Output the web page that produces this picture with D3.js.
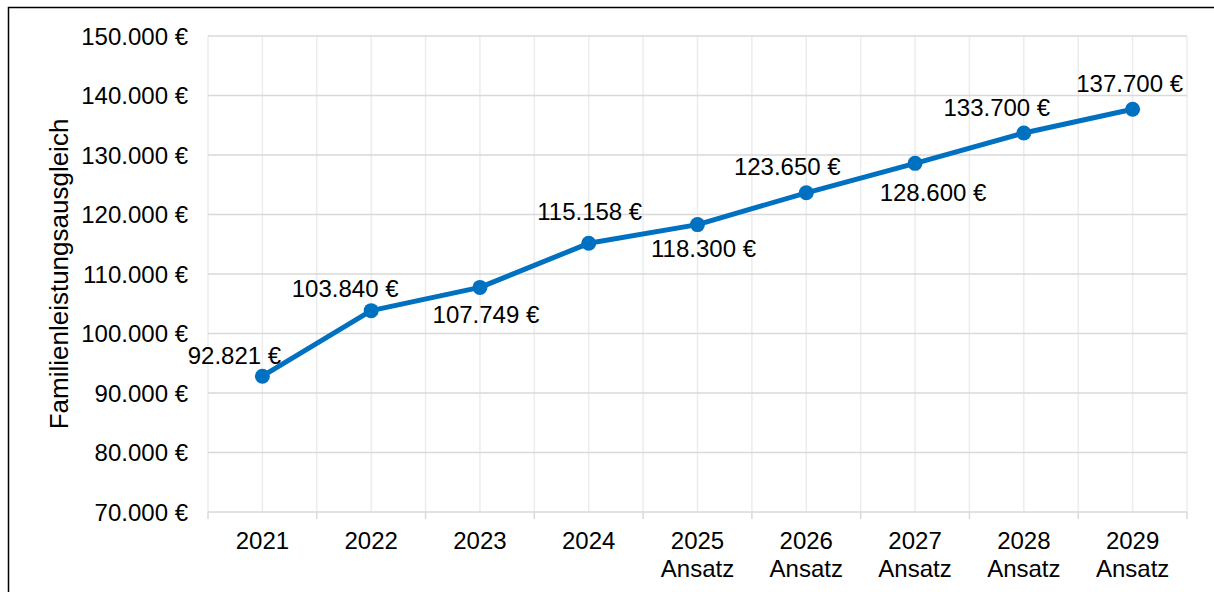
<!DOCTYPE html>
<html>
<head>
<meta charset="utf-8">
<script src="https://cdn.jsdelivr.net/npm/d3@7"></script>
<style>
  body { margin: 0; background: #fff; }
  text { font-family: "Liberation Sans", Arial, sans-serif; fill: #000; }
</style>
</head>
<body>
<div id="chart"></div>
<script>
// data
var years = ["2021", "2022", "2023", "2024", "2025", "2026", "2027", "2028", "2029"];
var subLabels = ["", "", "", "", "Ansatz", "Ansatz", "Ansatz", "Ansatz", "Ansatz"];
var values = [92821, 103840, 107749, 115158, 118300, 123650, 128600, 133700, 137700];
var yTicks = [70000, 80000, 90000, 100000, 110000, 120000, 130000, 140000, 150000];

// label placement (offset from point)
var labelDx = [-28, -26, 6, 1, 6, -19, 18, -27, -3];
var labelDy = [-21, -22, 27, -32, 24, -26, 29, -25, -26];

var svgWidth = 1214;
var svgHeight = 592;
var margin = { top: 36, right: 27, bottom: 80, left: 208 };
var width = svgWidth - margin.left - margin.right;
var height = 512 - margin.top;
var fontSize = "24px";

var svg = d3.select("#chart")
  .append("svg")
  .attr("width", svgWidth)
  .attr("height", svgHeight);

// outer border
svg.append("rect")
  .attr("x", 8.5)
  .attr("y", 7.5)
  .attr("width", svgWidth + 10)
  .attr("height", svgHeight + 10)
  .attr("fill", "none")
  .attr("stroke", "#000")
  .attr("stroke-width", 1.5);

var chartGroup = svg.append("g")
  .attr("transform", `translate(${margin.left}, ${margin.top})`);

var fmt = d3.formatLocale({ decimal: ",", thousands: ".", grouping: [3], currency: ["", " €"] }).format(",.0f");

var x = d3.scaleBand().domain(years).range([0, width]);
var y = d3.scaleLinear().domain([70000, 150000]).range([height, 0]);

// vertical grid: band boundaries and centres
var vLines = [];
years.forEach(function(d) {
  vLines.push(x(d));
  vLines.push(x(d) + x.bandwidth() / 2);
});
vLines.push(width);

chartGroup.append("g").selectAll("line")
  .data(vLines)
  .enter()
  .append("line")
  .attr("x1", d => d)
  .attr("x2", d => d)
  .attr("y1", 0)
  .attr("y2", height)
  .attr("stroke", "#ececec")
  .attr("stroke-width", 1.5);

// horizontal grid
chartGroup.append("g").selectAll("line")
  .data(yTicks)
  .enter()
  .append("line")
  .attr("x1", 0)
  .attr("x2", width)
  .attr("y1", d => y(d))
  .attr("y2", d => y(d))
  .attr("stroke", "#d9d9d9")
  .attr("stroke-width", 1.5);

// y axis labels
var yAxis = chartGroup.append("g")
  .call(d3.axisLeft(y).tickValues(yTicks).tickSize(0).tickPadding(20).tickFormat(d => fmt(d) + " €"));
yAxis.select(".domain").remove();
yAxis.selectAll("text").style("font-size", fontSize).attr("dy", "0.35em");

// x axis
var bandEdges = years.map(d => x(d)).concat([width]);
chartGroup.append("g").selectAll("line")
  .data(bandEdges)
  .enter()
  .append("line")
  .attr("x1", d => d)
  .attr("x2", d => d)
  .attr("y1", height)
  .attr("y2", height + 7)
  .attr("stroke", "#d9d9d9")
  .attr("stroke-width", 1.5);

var xLabels = chartGroup.append("g").selectAll("text")
  .data(years)
  .enter()
  .append("text")
  .attr("x", d => x(d) + x.bandwidth() / 2)
  .attr("y", height + 37)
  .attr("text-anchor", "middle")
  .style("font-size", fontSize);
xLabels.append("tspan")
  .attr("x", d => x(d) + x.bandwidth() / 2)
  .text(d => d);
xLabels.append("tspan")
  .attr("x", d => x(d) + x.bandwidth() / 2)
  .attr("dy", 28)
  .text((d, i) => subLabels[i]);

// y title
chartGroup.append("text")
  .attr("transform", "rotate(-90)")
  .attr("x", -(274 - margin.top))
  .attr("y", -140)
  .attr("text-anchor", "middle")
  .style("font-size", "26px")
  .text("Familienleistungsausgleich");

// line
var line = d3.line()
  .x((d, i) => x(years[i]) + x.bandwidth() / 2)
  .y(d => y(d));

chartGroup.append("path")
  .datum(values)
  .attr("d", line)
  .attr("fill", "none")
  .attr("stroke", "#0070c0")
  .attr("stroke-width", 5)
  .attr("stroke-linejoin", "round");

chartGroup.append("g").selectAll("circle")
  .data(values)
  .enter()
  .append("circle")
  .attr("cx", (d, i) => x(years[i]) + x.bandwidth() / 2)
  .attr("cy", d => y(d))
  .attr("r", 7.5)
  .attr("fill", "#0070c0");

// data labels
chartGroup.append("g").selectAll("text")
  .data(values)
  .enter()
  .append("text")
  .attr("x", (d, i) => x(years[i]) + x.bandwidth() / 2 + labelDx[i])
  .attr("y", (d, i) => y(d) + labelDy[i])
  .attr("dy", "0.35em")
  .attr("text-anchor", "middle")
  .style("font-size", fontSize)
  .text(d => fmt(d) + " €");
</script>
</body>
</html>
